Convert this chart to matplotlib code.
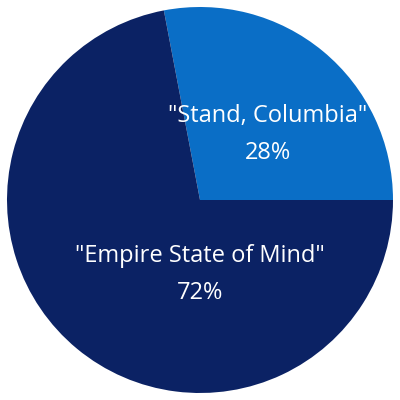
import matplotlib.pyplot as plt

labels = ['"Stand, Columbia"', '"Empire State of Mind"']
shares = [28, 72]
colors = ["#0a6ec6", "#0b2264"]
# label anchor points in pie units (radius 1)
label_pos = [(0.35, 0.34), (0.0, -0.385)]

fig = plt.figure(figsize=(4, 4), dpi=100)
ax = fig.add_axes([0, 0, 1, 1])
ax.pie(shares, colors=colors, startangle=0, counterclock=True,
       wedgeprops=dict(linewidth=0))

for lab, val, (x, y) in zip(labels, shares, label_pos):
    ax.text(x, y, f"{lab}\n{val}%", ha="center", va="center", color="white",
            fontsize=17, family="Open Sans", linespacing=1.75)

lim = 200 / 193
ax.set_xlim(-lim, lim)
ax.set_ylim(-lim, lim)
ax.set_aspect("equal")
ax.axis("off")

plt.savefig("out.png", dpi=100)
